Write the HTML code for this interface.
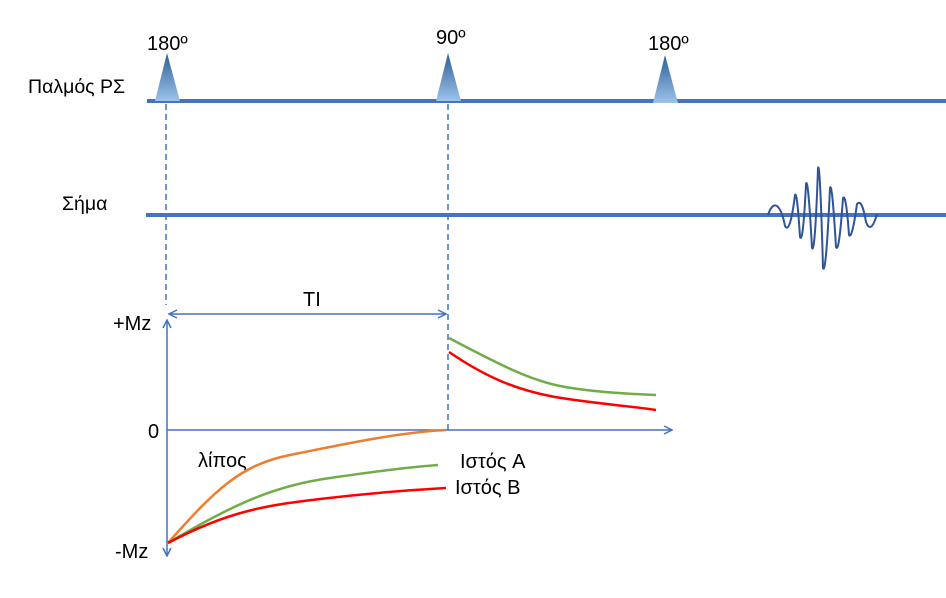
<!DOCTYPE html>
<html><head><style>
body{margin:0;background:#fff;}
svg text{font-family:"Liberation Sans",sans-serif;fill:#000;}
</style></head><body>
<svg width="946" height="593" viewBox="0 0 946 593" xmlns="http://www.w3.org/2000/svg">
<defs>
<linearGradient id="g" x1="0" y1="0" x2="0" y2="1">
<stop offset="0" stop-color="#2e5e96"/><stop offset="1" stop-color="#9cc3ea"/>
</linearGradient>
<marker id="a" viewBox="0 0 10 10" refX="9" refY="5" markerWidth="10" markerHeight="10" orient="auto-start-reverse" markerUnits="userSpaceOnUse">
<path d="M1,1 L9,5 L1,9" fill="none" stroke="#4472c4" stroke-width="1.5"/></marker>
</defs>
<text x="147" y="50" font-size="20">180º</text>
<text x="436" y="44" font-size="20">90º</text>
<text x="648" y="50" font-size="20">180º</text>
<text x="28" y="93" font-size="19.5">Παλμός ΡΣ</text>
<text x="62" y="210" font-size="19.5">Σήμα</text>
<line x1="147" y1="101" x2="946" y2="101" stroke="#4472c4" stroke-width="4"/>
<line x1="146" y1="215" x2="946" y2="215" stroke="#4472c4" stroke-width="4"/>
<polygon points="167,53 155,101 180,101" fill="url(#g)"/>
<polygon points="448,53 436,101 461,101" fill="url(#g)"/>
<polygon points="665,55 653,103 678,103" fill="url(#g)"/>
<path d="M768,215 Q772,203 777,206 Q782,210 785,226 Q790,235 795,195 Q797,190 800,237 Q803,245 806,184 Q808,175 812,248 Q815,255 818,168 Q820,160 823,268 Q826,276 830,188 Q832,180 836,247 Q839,255 843,198 Q846,193 849,235 Q852,240 857,204 Q862,198 866,222 Q871,235 877,214" fill="none" stroke="#2f5597" stroke-width="2"/>
<g stroke="#4472c4" stroke-width="1.5" stroke-dasharray="6,4">
<line x1="166" y1="104" x2="166" y2="305"/>
<line x1="448" y1="104" x2="448" y2="430"/>
</g>
<text x="303" y="306" font-size="20">TI</text>
<line x1="169" y1="314" x2="446" y2="314" stroke="#4472c4" stroke-width="1.5" marker-start="url(#a)" marker-end="url(#a)"/>
<line x1="167" y1="556" x2="167" y2="320" stroke="#4472c4" stroke-width="1.5" marker-start="url(#a)" marker-end="url(#a)"/>
<line x1="167" y1="430" x2="672" y2="430" stroke="#4472c4" stroke-width="1.5" marker-end="url(#a)"/>
<text x="113" y="330" font-size="20">+Mz</text>
<text x="148" y="438" font-size="20">0</text>
<text x="115" y="558" font-size="20">-Mz</text>
<text x="198" y="467" font-size="20">λίπος</text>
<text x="460" y="468" font-size="20">Ιστός A</text>
<text x="455" y="494" font-size="20">Ιστός B</text>
<path d="M168,543 C215,490 240,465 290,455 S400,432 446,430" fill="none" stroke="#ed7d31" stroke-width="2.5"/>
<path d="M168,543 C240,500 280,485 330,478 S410,467 438,465" fill="none" stroke="#70ad47" stroke-width="2.5"/>
<path d="M168,543 C230,510 270,505 320,499 S410,490 446,488" fill="none" stroke="#ff0000" stroke-width="2.5"/>
<path d="M449,338 C500,365 530,380 560,386 S630,394 656,395" fill="none" stroke="#70ad47" stroke-width="2.5"/>
<path d="M449,352 C490,380 520,390 550,396 S630,406 656,410" fill="none" stroke="#ff0000" stroke-width="2.5"/>
</svg>
</body></html>
